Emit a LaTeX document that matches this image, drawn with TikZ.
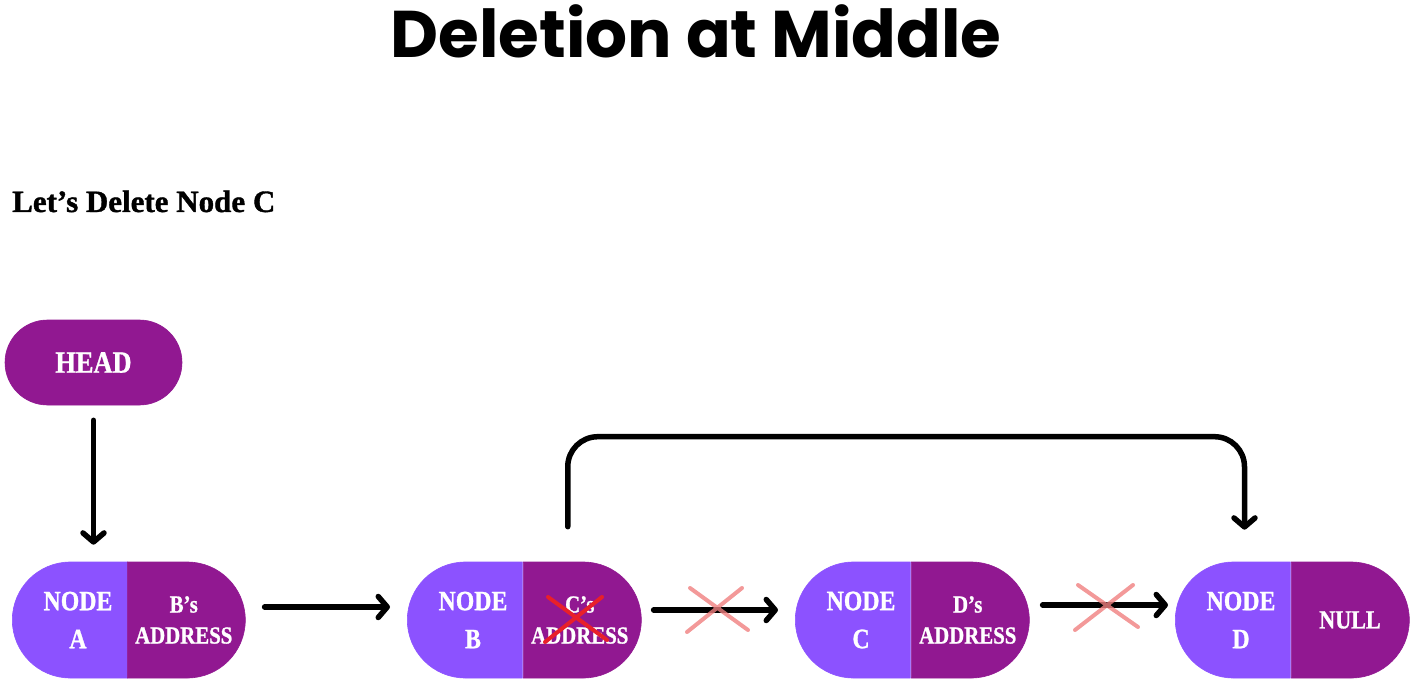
\documentclass[tikz,border=0pt]{standalone}
\usepackage{fontspec}
\setmainfont{Liberation Serif}
\newfontfamily\titlefont{Poppins}
\newfontfamily\taskfont{Liberation Serif}[FakeBold=1.2]
\newfontfamily\nodefont{Liberation Serif}[FakeStretch=0.85, FakeBold=1]
\usetikzlibrary{shapes.misc, arrows.meta, calc}
\definecolor{lightpurple}{HTML}{8C52FF}
\definecolor{darkpurple}{HTML}{911891}
\definecolor{softred}{HTML}{F08080}
\definecolor{crossred}{HTML}{E8202A}

\tikzset{
    half/.style={rounded rectangle, fill=#1, draw=#1, line width=.6pt, text=white,
        minimum height=116pt, inner sep=0pt, align=center},
    nodehalf/.style={half=lightpurple, rounded rectangle east arc=none,
        minimum width=115pt, font=\nodefont\bfseries\fontsize{28}{38}\selectfont},
    ptrhalf/.style={half=darkpurple, rounded rectangle west arc=none,
        minimum width=118pt, font=\nodefont\bfseries\fontsize{24.5}{31}\selectfont},
    link/.style={line width=5.5pt, line cap=round,
        -{Straight Barb[length=9pt,width=21pt,line width=5.5pt,round]}},
    cross/.style={line width=4pt, line cap=round},
}

\begin{document}
\begin{tikzpicture}[x=1pt,y=-1pt]
    \useasboundingbox (0,0) rectangle (1412,700);

    % Titles
    \node[font=\titlefont\bfseries\fontsize{66}{80}\selectfont, anchor=base] (title) at (696,58) {Deletion at Middle};
    \node[font=\taskfont\bfseries\fontsize{31}{40}\selectfont, anchor=base west, inner sep=0pt] (task) at (12,212) {Let’s Delete Node C};

    % Head pointer
    \node[half=darkpurple, minimum width=177pt, minimum height=85pt,
        font=\nodefont\bfseries\fontsize{31}{36}\selectfont] (head) at (93.5,362.5) {HEAD};

    % List nodes
    \node[nodehalf, anchor=west] (a) at (12,620) {\hspace*{9pt}NODE\\\hspace*{9pt}A};
    \node[ptrhalf, anchor=west] (aptr) at (127,620) {B’s\\ADDRESS};
    \node[nodehalf, anchor=west] (b) at (407,620) {\hspace*{9pt}NODE\\\hspace*{9pt}B};
    \node[ptrhalf, anchor=west] (bptr) at (523,620) {C’s\\ADDRESS};
    \node[nodehalf, anchor=west] (c) at (795,620) {\hspace*{9pt}NODE\\\hspace*{9pt}C};
    \node[ptrhalf, anchor=west] (cptr) at (911,620) {D’s\\ADDRESS};
    \node[nodehalf, anchor=west] (d) at (1175,620) {\hspace*{9pt}NODE\\\hspace*{9pt}D};
    \node[ptrhalf, anchor=west, font=\nodefont\bfseries\fontsize{26}{30}\selectfont] (dptr) at (1291,620) {NULL};

    % Links
    \draw[link, shorten <=15pt, shorten >=17pt] (head.south) -- (head.south |- a.north);
    \draw[link, shorten <=19pt, shorten >=17pt] ([yshift=13pt]aptr.east) -- ([yshift=13pt]b.west);
    \draw[link, shorten <=12pt, shorten >=17pt] ([yshift=10pt]bptr.east) -- ([yshift=10pt]c.west);
    \draw[link, shorten <=13pt, shorten >=7pt] ([yshift=15pt]cptr.east) -- ([yshift=15pt]d.west);
    \draw[link, rounded corners=30pt] ($(bptr.north)+(-12,-35)$) |- ($(d.north)+(8,-125)$) -- ($(d.north)+(8,-32)$);

    % Removed links
    \coordinate (bc) at (718,610);
    \coordinate (cd) at (1106,607);
    \draw[cross, softred, opacity=.8] ($(bc)+(-28,-22)$) -- ($(bc)+(30,20)$) ($(bc)+(24,-22)$) -- ($(bc)+(-31,22)$);
    \draw[cross, softred, opacity=.8] ($(cd)+(-28,-22)$) -- ($(cd)+(32,20)$) ($(cd)+(27,-22)$) -- ($(cd)+(-31,23)$);
    \draw[cross, crossred] (548,597) -- (607,640) (602,597) -- (545,642);

\end{tikzpicture}
\end{document}
